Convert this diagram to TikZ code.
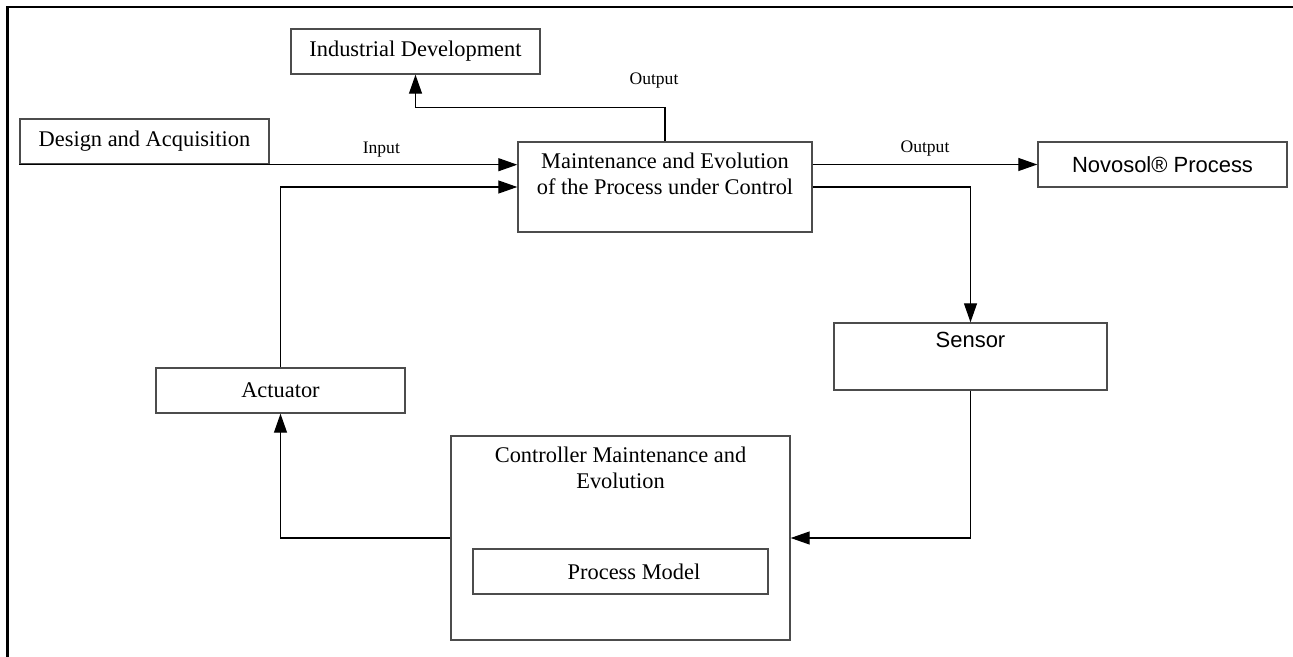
\documentclass[tikz,border=0pt]{standalone}
\usepackage{fontspec}
\setmainfont{Liberation Serif}
\newfontfamily\arialfont{Liberation Sans}
\usetikzlibrary{arrows.meta}

\begin{document}
\begin{tikzpicture}[
    block/.style={rectangle, draw=black!70, line width=0.8pt, inner sep=0pt, align=center, font=\fontsize{12.75}{14.7}\selectfont},
    lbl/.style={inner sep=0pt, font=\fontsize{10}{12}\selectfont},
    arrow/.style={-{Triangle[length=0.38cm, width=0.26cm]}, line width=0.7pt}
]
    \useasboundingbox (0,0) rectangle (25.86,-13.14);

    % Rahmen
    \draw[line width=0.05cm] (0.155,-13.14) -- (0.155,-0.14) -- (25.86,-0.14);

    % Bloecke
    \node[block, minimum width=4.98cm, minimum height=0.9cm] (ind) at (8.31,-1.03) {Industrial Development};
    \node[block, minimum width=4.98cm, minimum height=0.9cm] (design) at (2.89,-2.83) {Design and Acquisition};
    \node[block, minimum width=5.88cm, minimum height=1.8cm,
          label={[block, draw=none, anchor=north, yshift=-0.22cm]north:Maintenance and Evolution\\of the Process under Control}] (main) at (13.3,-3.74) {};
    \node[block, minimum width=4.98cm, minimum height=0.9cm, font=\arialfont\fontsize{12.5}{14}\selectfont] (novosol) at (23.25,-3.29) {Novosol® Process};
    \node[block, minimum width=5.46cm, minimum height=1.34cm,
          label={[anchor=north, inner sep=0pt, yshift=-0.2cm, font=\arialfont\fontsize{12.5}{14}\selectfont]north:Sensor}] (sensor) at (19.41,-7.13) {};
    \node[block, minimum width=4.98cm, minimum height=0.9cm] (act) at (5.61,-7.81) {Actuator};
    \node[block, minimum width=6.78cm, minimum height=4.08cm,
          label={[block, draw=none, anchor=north, yshift=-0.22cm]north:Controller Maintenance and\\Evolution}] (ctrl) at (12.41,-10.76) {};
    \node[block, minimum width=5.9cm, minimum height=0.9cm,
          label={[block, draw=none, xshift=0.27cm]center:Process Model}] (pm) at (12.41,-11.43) {};

    % Verbindungen
    \draw[arrow] (design.south west) -- node[lbl, above=0.14cm, pos=0.727] {Input} (design.south west -| main.west);
    \draw[arrow] (main.east |- novosol.west) -- node[lbl, above=0.16cm] {Output} (novosol.west);
    \draw[arrow] (main.north) -- ++(0,0.68) node[lbl, above=0.36cm, xshift=-0.22cm] {Output} -| (ind.south);
    \draw[arrow] (main.east) -| (sensor.north);
    \draw[arrow] (sensor.south) |- (ctrl.east);
    \draw[arrow] (ctrl.west) -| (act.south);
    \draw[arrow] (act.north) |- (main.west);
\end{tikzpicture}
\end{document}
